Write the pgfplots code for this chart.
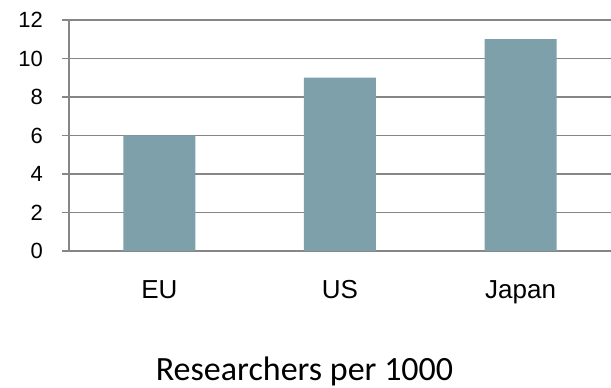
\documentclass[border=0pt]{standalone}
\usepackage{pgfplots}
\pgfplotsset{compat=1.18}
\usepackage{fontspec}
\setmainfont{Liberation Sans}
\newfontfamily\carlito{Carlito}
\definecolor{barc}{RGB}{125,160,170}
\definecolor{gridc}{RGB}{134,134,134}
\begin{document}
\begin{tikzpicture}
\path[use as bounding box] (-69pt,-137pt) rectangle (542pt,251pt);
\begin{axis}[
  at={(0pt,0pt)}, anchor=south west,
  scale only axis, width=542pt, height=231pt,
  xmin=-0.5, xmax=2.5, ymin=0, ymax=12,
  axis x line=bottom, axis y line=left,
  axis line style={-, draw=gridc, line width=1.1pt},
  ytick={0,2,...,12},
  xtick={0,1,2}, xticklabels={EU,US,Japan},
  major x tick style={draw=none},
  extra x ticks={-0.5,0.5,1.5,2.5}, extra x tick labels={},
  extra x tick style={major tick length=7pt, tick style={draw=gridc, line width=1.1pt}},
  tick align=outside, major tick length=7pt,
  ytick style={draw=gridc, line width=1.1pt},
  ymajorgrids, grid style={draw=gridc, line width=1.1pt},
  /pgf/number format/assume math mode=true,
  yticklabel style={font=\fontsize{22}{26}\selectfont, anchor=east, inner sep=0pt, xshift=-19pt},
  xticklabel style={font=\fontsize{26}{31}\selectfont, anchor=north, inner sep=0pt, text height=19pt, text depth=5pt, yshift=-21pt},
  ybar, bar width=72pt,
]
\addplot[fill=barc, draw=none] coordinates {(0,6) (1,9) (2,11)};
\end{axis}
\node[anchor=base, inner sep=0pt, font=\carlito\fontsize{34}{40}\selectfont] at (235.5pt,-129pt) {Researchers per 1000};
\end{tikzpicture}
\end{document}
